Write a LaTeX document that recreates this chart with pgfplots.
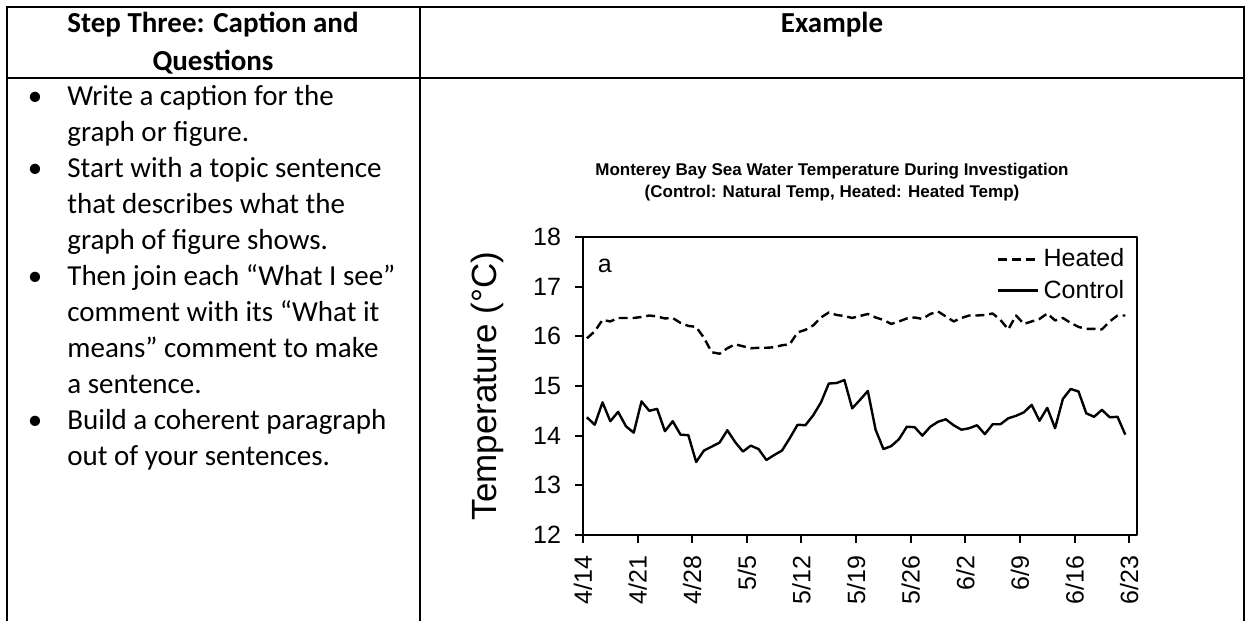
\documentclass[border=0pt]{standalone}
\usepackage{pgfplots}
\pgfplotsset{compat=1.18}
\usepackage{pgfplotstable}
\usepackage{fontspec}
\setmainfont{Carlito}
\newfontfamily\arial{Liberation Sans}

\pgfplotstableread{
x heated control
0.5 15.96 14.37
1.5 16.10 14.22
2.5 16.33 14.67
3.5 16.30 14.29
4.5 16.37 14.48
5.5 16.37 14.19
6.5 16.37 14.06
7.5 16.39 14.69
8.5 16.42 14.50
9.5 16.40 14.54
10.5 16.36 14.09
11.5 16.37 14.29
12.5 16.27 14.02
13.5 16.21 14.01
14.5 16.19 13.47
15.5 15.97 13.70
16.5 15.68 13.78
17.5 15.65 13.86
18.5 15.76 14.11
19.5 15.84 13.87
20.5 15.80 13.68
21.5 15.76 13.80
22.5 15.77 13.73
23.5 15.77 13.51
24.5 15.78 13.61
25.5 15.82 13.70
26.5 15.84 13.95
27.5 16.08 14.22
28.5 16.13 14.21
29.5 16.22 14.41
30.5 16.38 14.67
31.5 16.48 15.05
32.5 16.43 15.06
33.5 16.41 15.12
34.5 16.37 14.55
35.5 16.41 14.72
36.5 16.45 14.90
37.5 16.38 14.12
38.5 16.33 13.73
39.5 16.25 13.79
40.5 16.30 13.93
41.5 16.36 14.18
42.5 16.38 14.17
43.5 16.35 14.00
44.5 16.45 14.18
45.5 16.50 14.28
46.5 16.40 14.33
47.5 16.30 14.21
48.5 16.37 14.12
49.5 16.42 14.15
50.5 16.42 14.21
51.5 16.43 14.03
52.5 16.46 14.23
53.5 16.33 14.23
54.5 16.14 14.35
55.5 16.42 14.40
56.5 16.25 14.47
57.5 16.30 14.62
58.5 16.35 14.30
59.5 16.46 14.56
60.5 16.32 14.15
61.5 16.37 14.74
62.5 16.27 14.94
63.5 16.19 14.89
64.5 16.15 14.45
65.5 16.15 14.38
66.5 16.14 14.52
67.5 16.30 14.37
68.5 16.42 14.38
69.5 16.42 14.02
}\datatable

\begin{document}
\begin{tikzpicture}[x=0.5pt,y=0.5pt]
\path[use as bounding box] (0,0) rectangle (1252,621);
% table frame
\draw[line width=0.8pt] (7,0) -- (7,614) -- (1244,614) -- (1244,0);
\draw[line width=0.8pt] (420,0) -- (420,614);
\draw[line width=0.8pt] (7,543) -- (1244,543);
% header
\node[font=\fontsize{14.5}{18}\selectfont\bfseries] at (213,596) {Step Three: Caption and};
\node[font=\fontsize{14.5}{18}\selectfont\bfseries] at (213,559) {Questions};
\node[font=\fontsize{14.5}{18}\selectfont\bfseries] at (832,596) {Example};
% bullets
\begin{scope}[every node/.style={font=\fontsize{14.5}{18}\selectfont, anchor=base west, inner sep=0pt}]
\node at (67,515) {Write a caption for the};
\node at (67,479) {graph or figure.};
\node at (67,443) {Start with a topic sentence};
\node at (67,407) {that describes what the};
\node at (67,371) {graph of figure shows.};
\node at (67,335) {Then join each “What I see”};
\node at (67,299) {comment with its “What it};
\node at (67,263) {means” comment to make};
\node at (67,227) {a sentence.};
\node at (67,191) {Build a coherent paragraph};
\node at (67,155) {out of your sentences.};
\node[anchor=base] at (35,515) {\textbullet};
\node[anchor=base] at (35,443) {\textbullet};
\node[anchor=base] at (35,335) {\textbullet};
\node[anchor=base] at (35,191) {\textbullet};
\end{scope}
% chart title
\node[font=\arial\bfseries\fontsize{8.5}{10}\selectfont] at (832,450) {Monterey Bay Sea Water Temperature During Investigation};
\node[font=\arial\bfseries\fontsize{8.5}{10}\selectfont] at (832,428) {(Control: Natural Temp, Heated: Heated Temp)};
\begin{axis}[
  at={(291.5pt,43pt)}, anchor=south west,
  scale only axis, width=277pt, height=149pt,
  xmin=0, xmax=71, ymin=12, ymax=18,
  xtick={0,7,...,70},
  xticklabels={4/14,4/21,4/28,5/5,5/12,5/19,5/26,6/2,6/9,6/16,6/23},
  ytick={12,13,...,18},
  tick align=outside, xtick pos=bottom, ytick pos=left,
  major tick length=4pt,
  axis line style={line width=1pt},
  every tick/.style={line width=1pt, black},
  /pgf/number format/assume math mode=true,
  tick label style={font=\arial\fontsize{12.5}{15}\selectfont},
  xticklabel style={rotate=90, anchor=east},
  xticklabel shift=3pt,
  yticklabel shift=3.5pt,
  ylabel={Temperature (°C)},
  ylabel style={font=\arial\fontsize{17.5}{20}\selectfont, at={(axis description cs:-0.173,0.5)}, anchor=center},
  legend style={at={(0.985,0.975)}, anchor=north east, draw=none, fill=none,
    font=\arial\fontsize{12.5}{14}\selectfont, inner sep=0pt, row sep=1pt},
  legend cell align=left,
  legend image code/.code={\draw[#1] (0pt,0pt) -- (20pt,0pt);},
  line join=round,
]
\addplot[black, line width=1.2pt, dash pattern=on 4.5pt off 2.4pt] table[x=x, y=heated] {\datatable};
\addlegendentry{Heated}
\addplot[black, line width=1.2pt] table[x=x, y=control] {\datatable};
\addlegendentry{Control}
\node[font=\arial\fontsize{12.5}{15}\selectfont] at (axis cs:2.8,17.42) {a};
\end{axis}
\end{tikzpicture}
\end{document}
